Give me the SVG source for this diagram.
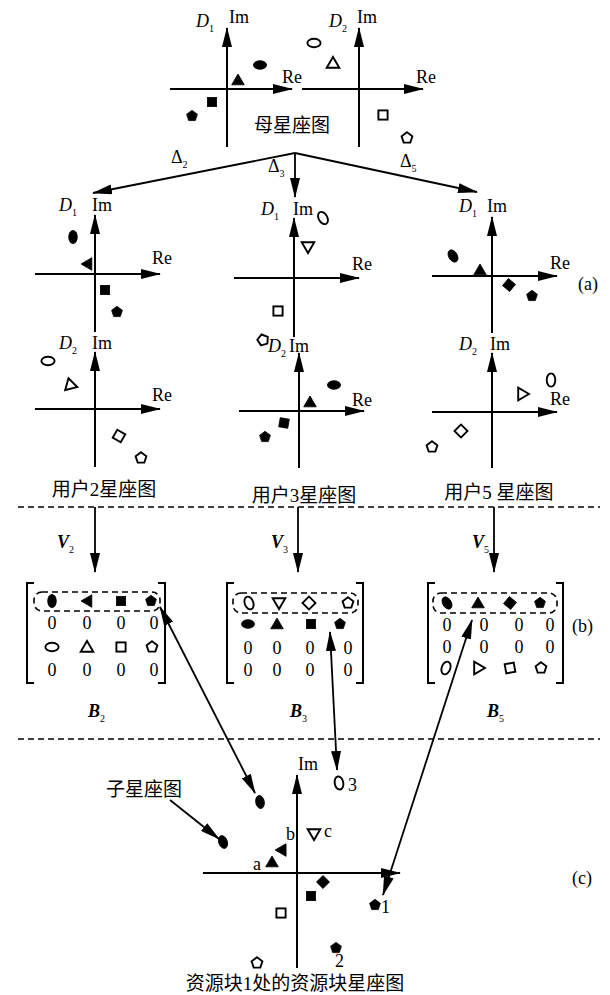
<svg xmlns="http://www.w3.org/2000/svg" xmlns:xlink="http://www.w3.org/1999/xlink" width="610" height="995" viewBox="0 0 610 995">
  <style>
    .ax { stroke:#000; stroke-width:2; fill:none; marker-end:url(#ah); }
    .ln { stroke:#000; stroke-width:1.8; fill:none; }
    .ar { marker-end:url(#ah); }
    .ar2 { marker-start:url(#ah); marker-end:url(#ah); }
    .dash { stroke:#000; stroke-width:1.6; stroke-dasharray:6 4; fill:none; }
    .br { stroke:#000; stroke-width:2; fill:none; }
    .f { fill:#000; stroke:#000; stroke-width:0.8; }
    .o { fill:#fff; stroke:#000; stroke-width:1.9; }
    text { font-family:"Liberation Serif","Noto Sans CJK SC",serif; font-size:18px; fill:#000; }
    .cn { font-family:"Liberation Serif","Noto Sans CJK SC",sans-serif; font-size:19px; }
    .it { font-style:italic; }
    .bi { font-style:italic; font-weight:bold; }
    .sub { font-size:10px; font-style:normal; font-weight:normal; }
    .z { font-size:18px; text-anchor:middle; }
  </style>
  <defs>
    <marker id="ah" viewBox="0 0 20 10" refX="19" refY="5" markerWidth="20" markerHeight="10" markerUnits="userSpaceOnUse" orient="auto-start-reverse">
      <path d="M0,0 L20,5 L0,10 z" fill="#000"/>
    </marker>
    <ellipse id="el" cx="0" cy="0" rx="6.6" ry="4.3"/>
    <polygon id="tr" points="0,-6 6.3,4.8 -6.3,4.8"/>
    <rect id="sq" x="-4.6" y="-4.6" width="9.2" height="9.2"/>
    <polygon id="pe" points="0,-5.7 5.4,-1.7 3.3,4.6 -3.3,4.6 -5.4,-1.7"/>
  </defs>

  <!-- mother constellation -->
  <g id="mother">
    <line class="ax" x1="227" y1="147" x2="227" y2="28"/>
    <line class="ax" x1="170" y1="89" x2="292" y2="89"/>
    <line class="ax" x1="359" y1="147" x2="359" y2="28"/>
    <line class="ax" x1="302" y1="89" x2="423" y2="89"/>
    <text x="196" y="27" class="it">D<tspan class="sub" dy="5">1</tspan></text>
    <text x="229" y="23">Im</text>
    <text x="282" y="83">Re</text>
    <text x="329" y="27" class="it">D<tspan class="sub" dy="5">2</tspan></text>
    <text x="357" y="23">Im</text>
    <text x="416" y="83">Re</text>
    <use href="#el" class="f" transform="translate(260,65)"/>
    <use href="#tr" class="f" transform="translate(238,80)"/>
    <use href="#sq" class="f" transform="translate(212,102)"/>
    <use href="#pe" class="f" transform="translate(192,116)"/>
    <use href="#el" class="o" transform="translate(314,43)"/>
    <use href="#tr" class="o" transform="translate(333,63)"/>
    <use href="#sq" class="o" transform="translate(383,115)"/>
    <use href="#pe" class="o" transform="translate(407,138)"/>
    <text x="292" y="132" class="cn" text-anchor="middle">母星座图</text>
  </g>

  <!-- user 2 constellation -->
  <g id="user2">
    <line class="ax" x1="95" y1="332" x2="95" y2="215"/>
    <line class="ax" x1="35" y1="274" x2="160" y2="274"/>
    <line class="ax" x1="95" y1="467" x2="95" y2="352"/>
    <line class="ax" x1="35" y1="409" x2="160" y2="409"/>
    <text x="59" y="211" class="it">D<tspan class="sub" dy="5">1</tspan></text>
    <text x="92" y="211">Im</text>
    <text x="152" y="264">Re</text>
    <text x="59" y="349" class="it">D<tspan class="sub" dy="5">2</tspan></text>
    <text x="92" y="349">Im</text>
    <text x="152" y="401">Re</text>
    <use href="#el" class="f" transform="translate(73,237) rotate(90)"/>
    <use href="#tr" class="f" transform="translate(87,264) rotate(-90)"/>
    <use href="#sq" class="f" transform="translate(105,290)"/>
    <use href="#pe" class="f" transform="translate(117,312)"/>
    <use href="#el" class="o" transform="translate(48,361)"/>
    <use href="#tr" class="o" transform="translate(70,384) rotate(-15)"/>
    <use href="#sq" class="o" transform="translate(119,436) rotate(30)"/>
    <use href="#pe" class="o" transform="translate(141,458)"/>
    <text x="104" y="496" class="cn" text-anchor="middle">用户2星座图</text>
  </g>

  <!-- user 3 constellation -->
  <g id="user3">
    <line class="ax" x1="294" y1="337" x2="294" y2="218"/>
    <line class="ax" x1="234" y1="278" x2="359" y2="278"/>
    <line class="ax" x1="299" y1="468" x2="299" y2="353"/>
    <line class="ax" x1="239" y1="411" x2="364" y2="411"/>
    <text x="261" y="215" class="it">D<tspan class="sub" dy="5">1</tspan></text>
    <text x="293" y="215">Im</text>
    <text x="352" y="270">Re</text>
    <text x="268" y="352" class="it">D<tspan class="sub" dy="5">2</tspan></text>
    <text x="289" y="352">Im</text>
    <text x="352" y="406">Re</text>
    <use href="#el" class="o" transform="translate(323,218) rotate(60)"/>
    <use href="#tr" class="o" transform="translate(308,247) rotate(180)"/>
    <use href="#sq" class="o" transform="translate(278,311)"/>
    <use href="#pe" class="o" transform="translate(263,340) rotate(-15)"/>
    <use href="#el" class="f" transform="translate(334,385)"/>
    <use href="#tr" class="f" transform="translate(310,402)"/>
    <use href="#sq" class="f" transform="translate(284,423) rotate(10)"/>
    <use href="#pe" class="f" transform="translate(265,437)"/>
    <text x="304" y="502" class="cn" text-anchor="middle">用户3星座图</text>
  </g>

  <!-- user 5 constellation -->
  <g id="user5">
    <line class="ax" x1="492" y1="333" x2="492" y2="217"/>
    <line class="ax" x1="432" y1="276" x2="557" y2="276"/>
    <line class="ax" x1="492" y1="468" x2="492" y2="353"/>
    <line class="ax" x1="432" y1="412" x2="557" y2="412"/>
    <text x="459" y="212" class="it">D<tspan class="sub" dy="5">1</tspan></text>
    <text x="487" y="212">Im</text>
    <text x="550" y="269">Re</text>
    <text x="459" y="350" class="it">D<tspan class="sub" dy="5">2</tspan></text>
    <text x="490" y="350">Im</text>
    <text x="550" y="405">Re</text>
    <text x="578" y="290">(a)</text>
    <use href="#el" class="f" transform="translate(453,256) rotate(60)"/>
    <use href="#tr" class="f" transform="translate(480,270)"/>
    <use href="#sq" class="f" transform="translate(509,285) rotate(40)"/>
    <use href="#pe" class="f" transform="translate(532,296)"/>
    <use href="#el" class="o" transform="translate(551,380) rotate(90)"/>
    <use href="#tr" class="o" transform="translate(523,394) rotate(90)"/>
    <use href="#sq" class="o" transform="translate(461,431) rotate(45)"/>
    <use href="#pe" class="o" transform="translate(432,447)"/>
    <text x="499" y="499" class="cn" text-anchor="middle">用户5 星座图</text>
  </g>

  <!-- precoded matrix B2 -->
  <g id="B2">
    <path class="br" d="M34,583 H27 V683 H34"/>
    <path class="br" d="M158,583 H165 V683 H158"/>
    <rect class="dash" x="34" y="592" width="126" height="19" rx="8"/>
    <use href="#el" class="f" transform="translate(52,601) rotate(90)"/>
    <use href="#tr" class="f" transform="translate(87,601) rotate(-90)"/>
    <use href="#sq" class="f" transform="translate(121,601)"/>
    <use href="#pe" class="f" transform="translate(151,601)"/>
    <text class="z" x="52" y="629">0</text><text class="z" x="87" y="629">0</text><text class="z" x="121" y="629">0</text><text class="z" x="154" y="629">0</text>
    <use href="#el" class="o" transform="translate(52,647)"/>
    <use href="#tr" class="o" transform="translate(87,647)"/>
    <use href="#sq" class="o" transform="translate(121,647)"/>
    <use href="#pe" class="o" transform="translate(152,647)"/>
    <text class="z" x="52" y="676">0</text><text class="z" x="87" y="676">0</text><text class="z" x="121" y="676">0</text><text class="z" x="154" y="676">0</text>
    <text x="88" y="717" class="bi">B<tspan class="sub" dy="5">2</tspan></text>
  </g>

  <!-- precoded matrix B3 -->
  <g id="B3">
    <path class="br" d="M234,583 H227 V683 H234"/>
    <path class="br" d="M356,583 H363 V683 H356"/>
    <rect class="dash" x="233" y="593" width="125" height="20" rx="8"/>
    <use href="#el" class="o" transform="translate(249,603) rotate(70)"/>
    <use href="#tr" class="o" transform="translate(279,603) rotate(180)"/>
    <use href="#sq" class="o" transform="translate(309,603) rotate(45)"/>
    <use href="#pe" class="o" transform="translate(348,603)"/>
    <use href="#el" class="f" transform="translate(248,624)"/>
    <use href="#tr" class="f" transform="translate(277,624)"/>
    <use href="#sq" class="f" transform="translate(311,624)"/>
    <use href="#pe" class="f" transform="translate(340,624)"/>
    <text class="z" x="248" y="654">0</text><text class="z" x="277" y="654">0</text><text class="z" x="310" y="654">0</text><text class="z" x="348" y="654">0</text>
    <text class="z" x="248" y="676">0</text><text class="z" x="277" y="676">0</text><text class="z" x="310" y="676">0</text><text class="z" x="348" y="676">0</text>
    <text x="290" y="717" class="bi">B<tspan class="sub" dy="5">3</tspan></text>
  </g>

  <!-- precoded matrix B5 -->
  <g id="B5">
    <path class="br" d="M435,583 H428 V683 H435"/>
    <path class="br" d="M556,583 H563 V683 H556"/>
    <rect class="dash" x="433" y="593" width="124" height="20" rx="8"/>
    <use href="#el" class="f" transform="translate(447,603) rotate(60)"/>
    <use href="#tr" class="f" transform="translate(478,603)"/>
    <use href="#sq" class="f" transform="translate(510,603) rotate(40)"/>
    <use href="#pe" class="f" transform="translate(540,603)"/>
    <text class="z" x="447" y="631">0</text><text class="z" x="484" y="631">0</text><text class="z" x="519" y="631">0</text><text class="z" x="550" y="631">0</text>
    <text class="z" x="447" y="653">0</text><text class="z" x="484" y="653">0</text><text class="z" x="519" y="653">0</text><text class="z" x="550" y="653">0</text>
    <use href="#el" class="o" transform="translate(446,668) rotate(-70)"/>
    <use href="#tr" class="o" transform="translate(479,668) rotate(90)"/>
    <use href="#sq" class="o" transform="translate(510,668) rotate(-10)"/>
    <use href="#pe" class="o" transform="translate(541,668)"/>
    <text x="487" y="717" class="bi">B<tspan class="sub" dy="5">5</tspan></text>
    <text x="572" y="632">(b)</text>
  </g>

  <!-- resource block constellation -->
  <g id="resource">
    <line class="ax" x1="297" y1="968" x2="297" y2="775"/>
    <line class="ax" x1="203" y1="873" x2="400" y2="873"/>
    <text x="298" y="770">Im</text>
    <use href="#el" class="f" transform="translate(260,802) rotate(80)"/>
    <use href="#el" class="f" transform="translate(223,842) rotate(70)"/>
    <use href="#el" class="o" transform="translate(339,783) rotate(80)"/>
    <text x="348" y="791">3</text>
    <use href="#tr" class="f" transform="translate(272,862)"/>
    <text x="253" y="870">a</text>
    <use href="#tr" class="f" transform="translate(283,849) rotate(30)"/>
    <text x="286" y="840">b</text>
    <use href="#tr" class="o" transform="translate(314,834) rotate(180)"/>
    <text x="324" y="837">c</text>
    <use href="#sq" class="f" transform="translate(323,882) rotate(45)"/>
    <use href="#sq" class="f" transform="translate(311,896)"/>
    <use href="#sq" class="o" transform="translate(281,913)"/>
    <use href="#pe" class="f" transform="translate(375,905)"/>
    <text x="381" y="913">1</text>
    <use href="#pe" class="f" transform="translate(336,948)"/>
    <text x="335" y="967">2</text>
    <use href="#pe" class="o" transform="translate(257,963)"/>
    <text x="295" y="990" class="cn" text-anchor="middle">资源块1处的资源块星座图</text>
    <text x="572" y="884">(c)</text>
  </g>

  <g id="sub-label">
    <text x="106" y="796" class="cn">子星座图</text>
  </g>

  <!-- connectors -->
  <g id="connectors">
    <line class="ln ar" x1="295" y1="153" x2="93" y2="193"/>
    <line class="ln ar" x1="295" y1="153" x2="295" y2="197"/>
    <line class="ln ar" x1="295" y1="153" x2="477" y2="192"/>
    <text x="171" y="163">Δ<tspan class="sub" dy="5">2</tspan></text>
    <text x="268" y="172">Δ<tspan class="sub" dy="5">3</tspan></text>
    <text x="400" y="167">Δ<tspan class="sub" dy="5">5</tspan></text>

    <line class="dash" x1="18" y1="507" x2="600" y2="507"/>
    <line class="dash" x1="18" y1="739" x2="600" y2="739"/>

    <line class="ln ar" x1="95" y1="507" x2="95" y2="572"/>
    <line class="ln ar" x1="298" y1="507" x2="298" y2="572"/>
    <line class="ln ar" x1="494" y1="507" x2="494" y2="572"/>
    <text x="57" y="548" class="bi">V<tspan class="sub" dy="5">2</tspan></text>
    <text x="271" y="548" class="bi">V<tspan class="sub" dy="5">3</tspan></text>
    <text x="472" y="548" class="bi">V<tspan class="sub" dy="5">5</tspan></text>

    <line class="ln ar2" x1="160" y1="607" x2="255" y2="793"/>
    <line class="ln ar2" x1="330" y1="632" x2="337" y2="770"/>
    <line class="ln ar2" x1="472" y1="620" x2="383" y2="895"/>
    <line class="ln ar" x1="170" y1="800" x2="219" y2="839"/>
  </g>
</svg>
